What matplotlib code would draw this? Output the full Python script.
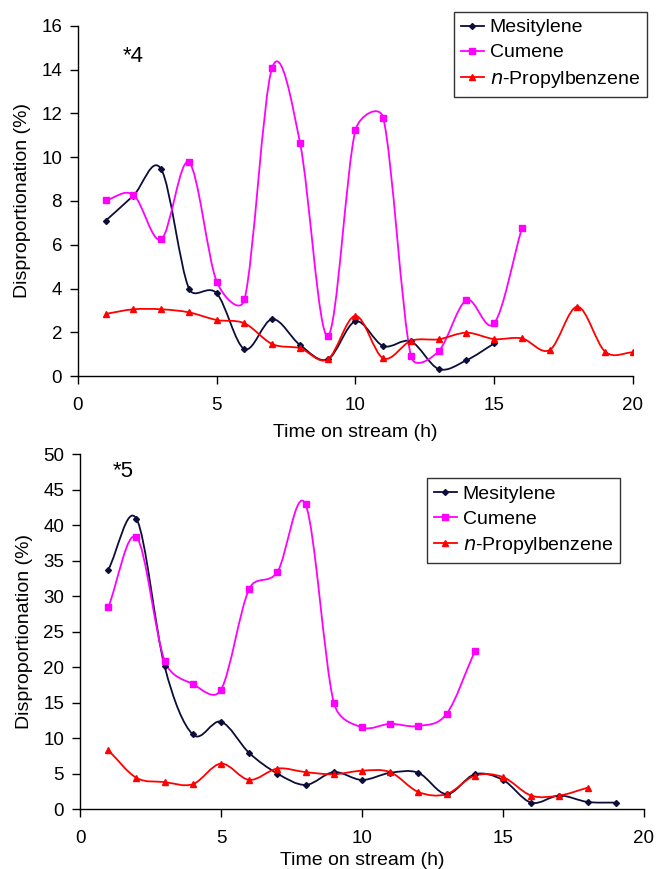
import numpy as np
import matplotlib.pyplot as plt
from matplotlib.path import Path
from matplotlib.patches import PathPatch
from matplotlib.lines import Line2D

plt.rcParams['font.family'] = ['Liberation Sans', 'DejaVu Sans']

# ---- data: panel *4 ----
t4_mes = [1, 2, 3, 4, 5, 6, 7, 8, 9, 10, 11, 12, 13, 14, 15]
mes4 = [7.1, 8.25, 9.45, 4.0, 3.78, 1.23, 2.6, 1.42, 0.76, 2.5, 1.37, 1.58, 0.32, 0.72, 1.49]
t4_cum = [1, 2, 3, 4, 5, 6, 7, 8, 9, 10, 11, 12, 13, 14, 15, 16]
cum4 = [8.03, 8.28, 6.25, 9.77, 4.31, 3.5, 14.1, 10.67, 1.83, 11.25, 11.8, 0.91, 1.14, 3.47, 2.41, 6.78]
t4_pro = [1, 2, 3, 4, 5, 6, 7, 8, 9, 10, 11, 12, 13, 14, 15, 16, 17, 18, 19, 20]
pro4 = [2.84, 3.05, 3.05, 2.91, 2.56, 2.41, 1.46, 1.27, 0.76, 2.75, 0.81, 1.61, 1.68, 1.98,
        1.69, 1.72, 1.19, 3.17, 1.11, 1.08]

# ---- data: panel *5 ----
t5_mes = [1, 2, 3, 4, 5, 6, 7, 8, 9, 10, 11, 12, 13, 14, 15, 16, 17, 18, 19]
mes5 = [33.7, 40.9, 20.1, 10.5, 12.3, 7.9, 5.0, 3.4, 5.2, 4.1, 5.1, 5.1, 2.1, 4.9, 4.1,
        0.9, 1.9, 1.0, 0.9]
t5_cum = [1, 2, 3, 4, 5, 6, 7, 8, 9, 10, 11, 12, 13, 14]
cum5 = [28.4, 38.3, 20.9, 17.6, 16.8, 31.0, 33.4, 42.9, 15.0, 11.5, 12.0, 11.7, 13.4, 22.2]
t5_pro = [1, 2, 3, 4, 5, 6, 7, 8, 9, 10, 11, 12, 13, 14, 15, 16, 17, 18]
pro5 = [8.3, 4.4, 3.8, 3.5, 6.4, 4.1, 5.7, 5.2, 4.9, 5.4, 5.2, 2.4, 2.1, 4.7, 4.5, 1.9, 1.9, 3.0]

labels = ['Mesitylene', 'Cumene', '$n$-Propylbenzene']
colors = ['#0d0d3a', '#ff00ff', '#ff0000']
markers = ['D', 's', '^']
msizes = [3.0, 4.5, 5.0]

FIG_W, FIG_H = 658, 869


def smooth_path(x, y, sx, sy):
    """Excel-like smoothed line (Bezier), arms limited to half the segment in screen space"""
    pts = np.column_stack([x, y]).astype(float)
    scr = pts * np.array([sx, sy])
    n = len(pts)
    verts = [pts[0]]
    codes = [Path.MOVETO]
    for i in range(n - 1):
        i0, i1, i2, i3 = max(i - 1, 0), i, i + 1, min(i + 2, n - 1)
        d02 = np.linalg.norm(scr[i2] - scr[i0])
        d12 = np.linalg.norm(scr[i2] - scr[i1])
        d13 = np.linalg.norm(scr[i3] - scr[i1])
        f = 1 / 3 if i0 == i1 else 1 / 6
        g = 1 / 3 if i2 == i3 else 1 / 6
        if d02 * f > d12 / 2:
            f = d12 / 2 / d02
        if d13 * g > d12 / 2:
            g = d12 / 2 / d13
        c1 = pts[i1] + f * (pts[i2] - pts[i0])
        c2 = pts[i2] - g * (pts[i3] - pts[i1])
        verts += [c1, c2, pts[i2]]
        codes += [Path.CURVE4] * 3
    return Path(verts, codes)


def draw_panel(ax, pos, series, ylim, yticks, tag, tag_xy, legend_box, xlabelpad):
    sx = FIG_W * pos[2] / 20.0
    sy = FIG_H * pos[3] / (ylim[1] - ylim[0])
    for (x, y), c, m, ms in zip(series, colors, markers, msizes):
        ax.add_patch(PathPatch(smooth_path(x, y, sx, sy), facecolor='none', edgecolor=c, lw=1.3))
        ax.plot(x, y, linestyle='none', marker=m, color=c, markersize=ms)
    ax.set_xlim(0, 20)
    ax.set_ylim(*ylim)
    ax.set_xticks([0, 5, 10, 15, 20])
    ax.set_yticks(yticks)
    for s in ['top', 'right']:
        ax.spines[s].set_visible(False)
    for s in ['left', 'bottom']:
        ax.spines[s].set_linewidth(1.0)
    ax.tick_params(direction='out', length=5.5, width=1.0, labelsize=13.5)
    ax.tick_params(axis='x', pad=9.5)
    ax.tick_params(axis='y', pad=6)
    ax.set_xlabel('Time on stream (h)', fontsize=14, labelpad=xlabelpad)
    ax.set_ylabel('Disproportionation (%)', fontsize=14, labelpad=7)
    ax.text(tag_xy[0], tag_xy[1], tag, fontsize=16, va='center', ha='left')
    handles = [Line2D([], [], color=c, marker=m, markersize=ms, lw=1.3)
               for c, m, ms in zip(colors, markers, msizes)]
    leg = ax.legend(handles, labels, loc='upper left', bbox_to_anchor=legend_box,
                    fontsize=14, frameon=True, fancybox=False, handlelength=1.2,
                    handletextpad=0.3, borderpad=0.35, labelspacing=0.38, borderaxespad=0)
    leg.get_frame().set_edgecolor('black')
    leg.get_frame().set_linewidth(1.0)


fig = plt.figure(figsize=(FIG_W / 100, FIG_H / 100), dpi=100)
pos1 = [0.1185, 0.5673, 0.8435, 0.4028]
pos2 = [0.1216, 0.069, 0.857, 0.4085]
ax1 = fig.add_axes(pos1)
ax2 = fig.add_axes(pos2)

draw_panel(ax1, pos1, [(t4_mes, mes4), (t4_cum, cum4), (t4_pro, pro4)],
           (0, 16), [0, 2, 4, 6, 8, 10, 12, 14, 16], '*4', (1.6, 14.6), (0.677, 1.04), 7)
draw_panel(ax2, pos2, [(t5_mes, mes5), (t5_cum, cum5), (t5_pro, pro5)],
           (0, 50), [0, 5, 10, 15, 20, 25, 30, 35, 40, 45, 50], '*5', (1.15, 47.6), (0.615, 0.932), 4)

fig.savefig('out.png', dpi=100)
